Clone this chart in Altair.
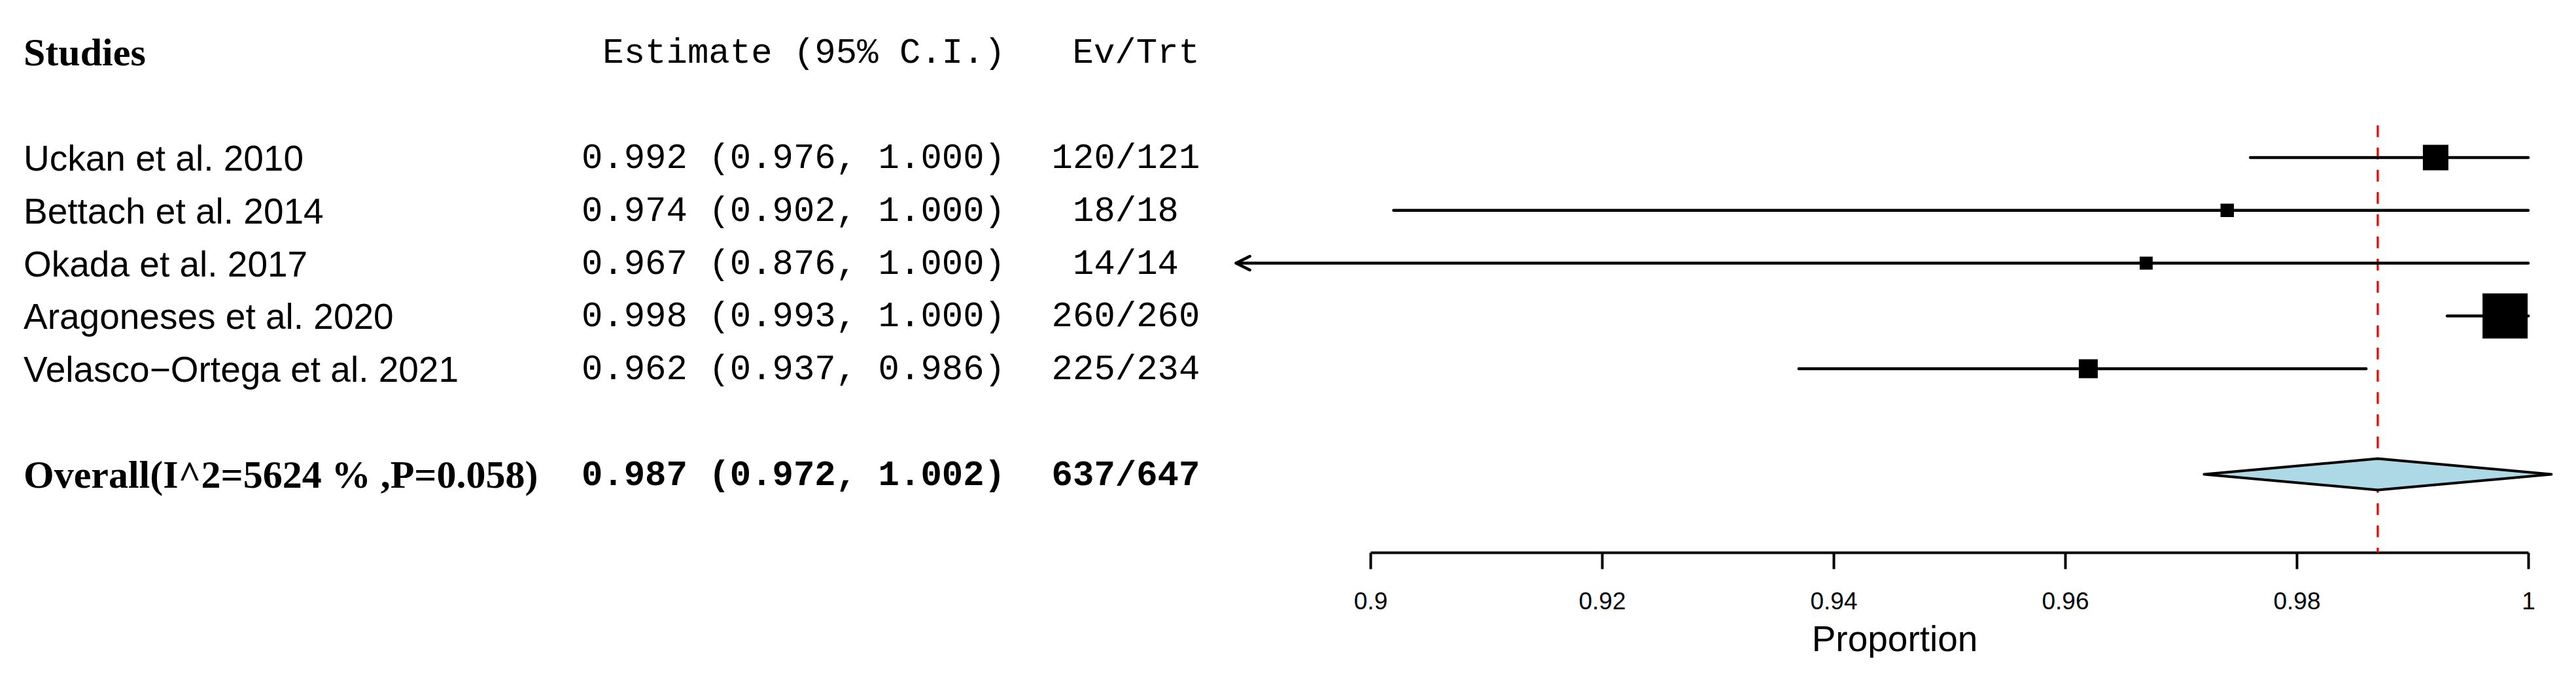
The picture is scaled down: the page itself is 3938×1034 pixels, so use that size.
import altair as alt
import pandas as pd

# ---- data ----
studies = ["Uckan et al. 2010", "Bettach et al. 2014", "Okada et al. 2017",
           "Aragoneses et al. 2020", "Velasco\u2212Ortega et al. 2021"]
est = [0.992, 0.974, 0.967, 0.998, 0.962]
lower = [0.976, 0.902, 0.876, 0.993, 0.937]
upper = [1.000, 1.000, 1.000, 1.000, 0.986]
events = [120, 18, 14, 260, 225]
totals = [121, 18, 14, 260, 234]
weights = [19.2, 5.3, 5.0, 60.1, 10.6]          # box area ~ weight (%)

overall_est = 0.987
overall_lo = 0.972
overall_hi = 1.002
i2_text = "5624 %"
p_text = "0.058"
tick_values = [0.9, 0.92, 0.94, 0.96, 0.98, 1.0]

# ---- layout constants ----
XLIM_LOW = 0.8884
STUDY_ROWS = [2, 3, 4, 5, 6]
OVERALL_ROW = 8
HEADER_ROW = 0
DIAMOND_HALF = 0.297
REF_TOP, REF_BOT = 1.39, 9.48

df = pd.DataFrame({"study": studies, "est": est, "lo": lower, "hi": upper,
                   "ev": events, "n": totals, "w": weights, "k": STUDY_ROWS})
df["lo_c"] = df["lo"].clip(lower=XLIM_LOW)
df["clipped"] = df["lo"] < XLIM_LOW
df["ci"] = [f"{e:.3f} ({l:.3f}, {h:.3f})" for e, l, h in zip(df.est, df.lo, df.hi)]
df["evtrt"] = [f"{a}/{b}" for a, b in zip(df.ev, df.n)]

ov = pd.DataFrame({
    "label": [f"Overall(I^2={i2_text} ,P={p_text})"],
    "ci": [f"{overall_est:.3f} ({overall_lo:.3f}, {overall_hi:.3f})"],
    "evtrt": [f"{sum(events)}/{sum(totals)}"],
    "est": [overall_est],
    "k": [OVERALL_ROW],
    "top": [REF_TOP],
    "bot": [REF_BOT],
})
diamond = pd.DataFrame({
    "x": [overall_lo, overall_est, overall_hi],
    "y": [OVERALL_ROW, OVERALL_ROW - DIAMOND_HALF, OVERALL_ROW],
    "y2": [OVERALL_ROW, OVERALL_ROW + DIAMOND_HALF, OVERALL_ROW],
})
header = pd.DataFrame({"k": [HEADER_ROW], "a": ["Studies"], "b": ["Estimate (95% C.I.)"],
                       "c": ["Ev/Trt"]})

xsc = alt.Scale(domain=[0.9, 1.0], range=[2087, 3857])
ysc = alt.Scale(domain=[0, 10], range=[71.5, 879])
xax = alt.Axis(values=tick_values, format="~g", grid=False,
               domainColor="black", domainWidth=4,
               tickColor="black", tickWidth=4, tickSize=25,
               labelFont="Liberation Sans", labelFontSize=37, labelColor="black",
               labelPadding=32, labelFlush=False, labelOverlap=False,
               title="Proportion", titleFont="Liberation Sans", titleFontSize=55,
               titleFontWeight="normal", titleColor="black",
               titleX=2888, titleY=150, titleAlign="center",
               titleBaseline="alphabetic")

def X(field):
    return alt.X(field, type="quantitative", scale=xsc, axis=xax, title="Proportion")

def Y(field):
    return alt.Y(field, type="quantitative", scale=ysc, axis=None)

red = alt.Chart(ov).mark_rule(color="#FF0000", strokeWidth=3.3, strokeDash=[18, 16]).encode(
    x=X("est"), y=Y("top"), y2="bot:Q")

ci = alt.Chart(df).mark_rule(color="black", strokeWidth=4.5, strokeCap="round").encode(
    x=X("lo_c"), x2="hi:Q", y=Y("k"))

arrow = alt.Chart(df).transform_filter("datum.clipped").mark_point(
    shape="M -1 0 L 1 -1 M -1 0 L 1 1", filled=False, size=441,
    stroke="black", strokeWidth=4.5, strokeCap="round", strokeJoin="round",
    xOffset=10.5, opacity=1).encode(x=X("lo_c"), y=Y("k"))

boxes = alt.Chart(df).mark_square(color="black", opacity=1, filled=True).encode(
    x=X("est"), y=Y("k"),
    size=alt.Size("w:Q", scale=alt.Scale(domain=[0, 60.1], range=[0, 4761]), legend=None))

dia = alt.Chart(diamond).mark_area(fill="#ADD8E6", fillOpacity=1, stroke="black",
                                   strokeWidth=4, strokeJoin="round").encode(
    x=X("x"), y=Y("y"), y2="y2:Q")

sans, serif, mono = "Liberation Sans", "Liberation Serif", "Liberation Mono"

h1 = alt.Chart(header).mark_text(font=serif, fontWeight="bold", fontSize=60,
                                 align="left", baseline="middle", dy=2, color="black").encode(
    x=alt.value(28), y=Y("k"), text="a:N")
h2 = alt.Chart(header).mark_text(font=mono, fontSize=54,
                                 align="right", baseline="middle", color="black").encode(
    x=alt.value(1529), y=Y("k"), text="b:N")
h3 = alt.Chart(header).mark_text(font=mono, fontSize=54,
                                 align="right", baseline="middle", color="black").encode(
    x=alt.value(1826), y=Y("k"), text="c:N")

names = alt.Chart(df).mark_text(font=sans, fontSize=55, align="left", baseline="middle",
                                dy=3, color="black").encode(
    x=alt.value(28), y=Y("k"), text="study:N")
cis = alt.Chart(df).mark_text(font=mono, fontSize=54, align="right", baseline="middle",
                              color="black").encode(
    x=alt.value(1529), y=Y("k"), text="ci:N")
evs = alt.Chart(df).mark_text(font=mono, fontSize=54, align="center", baseline="middle",
                              color="black").encode(
    x=alt.value(1713), y=Y("k"), text="evtrt:N")

ov_label = alt.Chart(ov).mark_text(font=serif, fontWeight="bold", fontSize=60, align="left",
                                   baseline="middle", dy=2, color="black").encode(
    x=alt.value(28), y=Y("k"), text="label:N")
ov_ci = alt.Chart(ov).mark_text(font=mono, fontWeight="bold", fontSize=54, align="right",
                                baseline="middle", color="black").encode(
    x=alt.value(1529), y=Y("k"), text="ci:N")
ov_ev = alt.Chart(ov).mark_text(font=mono, fontWeight="bold", fontSize=54, align="center",
                                baseline="middle", color="black").encode(
    x=alt.value(1713), y=Y("k"), text="evtrt:N")

chart = alt.layer(red, ci, arrow, boxes, dia, h1, h2, h3, names, cis, evs,
                  ov_label, ov_ci, ov_ev).properties(
    width=3920, height=837, padding=0, background="white"
).configure_view(strokeWidth=0)

chart.save("out.html", embed_options={"renderer": "svg", "actions": False})
